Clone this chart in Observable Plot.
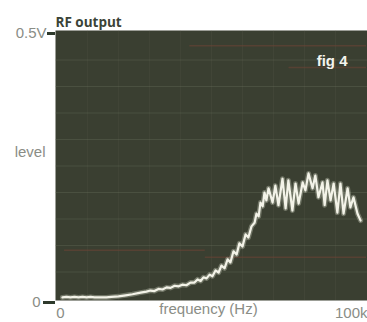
<!DOCTYPE html>
<html>
<head>
<meta charset="utf-8">
<script src="https://cdn.jsdelivr.net/npm/d3@7"></script>
<script src="https://cdn.jsdelivr.net/npm/@observablehq/plot@0.6"></script>
<style>
  html, body { margin: 0; padding: 0; background: #ffffff; }
  #chart { width: 367px; height: 322px; overflow: hidden; }
</style>
</head>
<body>
<div id="chart"></div>
<script>
// frequency in kHz
const freqK = [1.9,3.2,4.5,5.8,7.1,8.4,9.7,11.0,12.3,14.2,16.1,17.7,20.0,22.3,24.5,27.1,29.0,30.3,31.6,32.9,34.2,35.5,36.8,38.1,39.4,40.6,41.9,43.2,44.5,45.5,46.5,47.4,48.4,49.4,50.3,51.3,52.3,53.2,54.2,55.2,56.1,57.1,58.1,59.0,60.0,61.0,61.9,62.9,63.9,64.5,65.2,65.8,66.5,67.1,67.7,68.4,69.7,70.6,71.6,72.9,73.9,74.8,76.1,77.1,78.1,79.4,80.3,81.3,82.6,83.5,84.5,85.8,86.5,87.4,88.4,89.4,90.6,91.6,92.6,93.9,94.8,95.8,97.1,98.1];
// RF output level in volts
const levelV = [0.002,0.003,0.002,0.003,0.002,0.003,0.002,0.003,0.002,0.002,0.002,0.003,0.004,0.006,0.008,0.011,0.013,0.015,0.014,0.018,0.017,0.021,0.020,0.024,0.023,0.026,0.025,0.030,0.030,0.036,0.033,0.040,0.038,0.045,0.042,0.053,0.049,0.062,0.057,0.074,0.068,0.089,0.083,0.104,0.098,0.121,0.115,0.136,0.143,0.160,0.155,0.181,0.174,0.200,0.185,0.208,0.181,0.213,0.176,0.226,0.170,0.223,0.166,0.217,0.179,0.219,0.204,0.236,0.208,0.232,0.191,0.219,0.176,0.223,0.185,0.217,0.162,0.217,0.160,0.208,0.172,0.191,0.160,0.147];

const yTicks = [0, 0.5];
const yTickLabels = ["0", "0.5V"];
const xTicks = [0, 100];
const xTickLabels = ["0", "100k"];
const gridLevels = [0.05,0.1,0.15,0.2,0.25,0.3,0.35,0.4,0.45];
const gridFreqs = [10,20,30,40,50,60,70,80,90];
// faint reddish scan lines across the screen (level V, from kHz, to kHz)
const scanLevel = [0.091, 0.078, 0.477, 0.436];
const scanFrom = [2.6, 48, 43, 75];
const scanTo = [48, 100, 100, 100];

const titleText = "RF output";
const yLabelText = "level";
const xLabelText = "frequency (Hz)";
const figText = "fig 4";

const data = freqK.map((f, i) => ({f, v: levelV[i]}));
const scans = scanLevel.map((v, i) => ({v, x1: scanFrom[i], x2: scanTo[i]}));

const labelColor = "#8a8d86";
const font = "Liberation Sans, Arial, sans-serif";

const chart = Plot.plot({
  width: 367,
  height: 322,
  marginTop: 30,
  marginBottom: 22,
  marginLeft: 55,
  marginRight: 0,
  style: {fontFamily: font, background: "transparent", overflow: "visible"},
  x: {domain: [-0.32, 100.32], axis: null, label: null},
  y: {domain: [-0.0038, 0.5057], axis: null, label: null},
  marks: [
    Plot.frame({fill: "#3a3f31", stroke: null}),
    Plot.gridY(gridLevels, {stroke: "#7d826f", strokeOpacity: 0.25, strokeWidth: 1}),
    Plot.gridX(gridFreqs, {stroke: "#7d826f", strokeOpacity: 0.1, strokeWidth: 1}),
    Plot.ruleY(scans, {y: "v", x1: "x1", x2: "x2", stroke: "#6e4434", strokeOpacity: 0.55, strokeWidth: 1.5}),
    Plot.line(data, {x: "f", y: "v", stroke: "#d8dac8", strokeOpacity: 0.35, strokeWidth: 5, curve: "linear"}),
    Plot.line(data, {x: "f", y: "v", stroke: "#f3f3e8", strokeWidth: 2.2, curve: "linear"}),
    Plot.axisY([yTicks[1]], {label: null, tickSize: 8, tickPadding: 1, strokeWidth: 3, stroke: "#2e3a2c", fill: labelColor, fontSize: 15,
      tickFormat: () => yTickLabels[1]}),
    Plot.axisY([yTicks[0]], {label: null, tickSize: 12, tickPadding: 3, strokeWidth: 3, stroke: "#2e3a2c", fill: labelColor, fontSize: 15, dy: 4,
      tickFormat: () => yTickLabels[0]}),
    Plot.axisX([xTicks[0]], {label: null, tickSize: 0, tickPadding: 7, fill: labelColor, fontSize: 15, dx: 4,
      tickFormat: () => xTickLabels[0]}),
    Plot.axisX([xTicks[1]], {label: null, tickSize: 0, tickPadding: 7, fill: labelColor, fontSize: 15, textAnchor: "end", dx: 1,
      tickFormat: () => xTickLabels[1]}),
    Plot.text([xLabelText], {frameAnchor: "bottom", dy: 13, dx: -3, fill: labelColor, fontSize: 15}),
    Plot.text([yLabelText], {frameAnchor: "left", textAnchor: "end", dx: -10, dy: -13, fill: labelColor, fontSize: 15}),
    Plot.text([titleText], {frameAnchor: "top-left", textAnchor: "start", dy: -13, fill: "#3b4337", fontSize: 13.5, fontWeight: "bold", fontFamily: "Open Sans, sans-serif"}),
    Plot.text([figText], {frameAnchor: "top-right", textAnchor: "end", dx: -20, dy: 25, fill: "#f4f4ee", fontSize: 15, fontWeight: "bold"})
  ]
});
document.getElementById("chart").appendChild(chart);
</script>
</body>
</html>
